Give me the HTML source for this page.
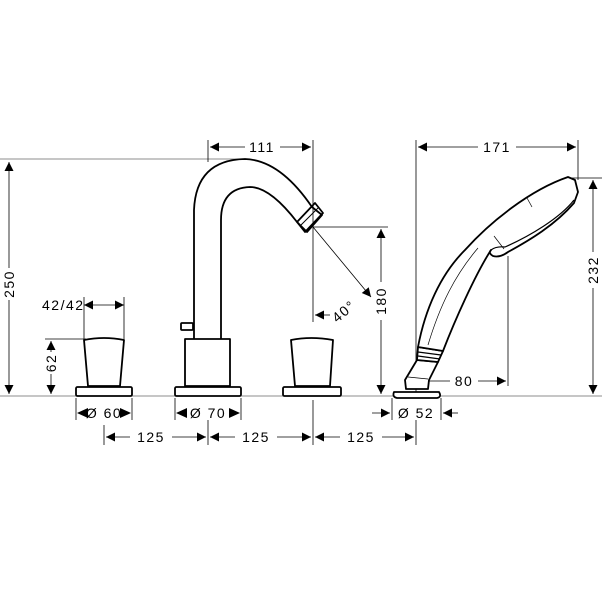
<!DOCTYPE html>
<html><head><style>html,body{margin:0;padding:0;background:#fff}svg{display:block}text{font-family:"Liberation Sans",sans-serif;font-size:14px;fill:#000;letter-spacing:1.5px}</style></head><body>
<svg width="602" height="602" viewBox="0 0 602 602" xmlns="http://www.w3.org/2000/svg">
<defs>
<marker id="a" viewBox="0 0 10 10" refX="10" refY="5" markerWidth="12" markerHeight="9" orient="auto-start-reverse" markerUnits="userSpaceOnUse"><path d="M0,0L10,5L0,10z" fill="#000"/></marker>
</defs>
<g stroke="#000" stroke-width="0.8" fill="none">
<line x1="0" y1="396" x2="602" y2="396" stroke="#666"/>
<line x1="0" y1="159" x2="245" y2="159" stroke="#666"/>
<line x1="208" y1="140" x2="208" y2="162"/>
<line x1="313" y1="140" x2="313" y2="322"/>
<line x1="416" y1="140" x2="416" y2="396"/>
<line x1="578" y1="140" x2="578" y2="180"/>
<line x1="570" y1="178" x2="602" y2="178"/>
<line x1="313" y1="227" x2="388" y2="227"/>
<line x1="508" y1="256" x2="508" y2="386"/>
<line x1="84" y1="297" x2="84" y2="339"/>
<line x1="124" y1="297" x2="124" y2="339"/>
<line x1="45" y1="339" x2="86" y2="339"/>
<line x1="76" y1="398" x2="76" y2="420"/><line x1="132" y1="398" x2="132" y2="420"/>
<line x1="175" y1="398" x2="175" y2="420"/><line x1="241" y1="398" x2="241" y2="420"/>
<line x1="392" y1="398" x2="392" y2="420"/><line x1="441" y1="398" x2="441" y2="420"/>
<line x1="104" y1="425" x2="104" y2="445"/><line x1="208" y1="420" x2="208" y2="445"/>
<line x1="313" y1="400" x2="313" y2="445"/><line x1="416" y1="420" x2="416" y2="445"/>
<line x1="9" y1="162" x2="9" y2="268" marker-start="url(#a)"/><line x1="9" y1="300" x2="9" y2="394" marker-end="url(#a)"/>
<line x1="51" y1="341" x2="51" y2="352" marker-start="url(#a)"/><line x1="51" y1="374" x2="51" y2="394" marker-end="url(#a)"/>
<line x1="84" y1="305" x2="124" y2="305" marker-start="url(#a)" marker-end="url(#a)"/>
<line x1="210" y1="147" x2="245" y2="147" marker-start="url(#a)"/><line x1="280" y1="147" x2="311" y2="147" marker-end="url(#a)"/>
<line x1="418" y1="147" x2="478" y2="147" marker-start="url(#a)"/><line x1="516" y1="147" x2="576" y2="147" marker-end="url(#a)"/>
<line x1="593" y1="180" x2="593" y2="252" marker-start="url(#a)"/><line x1="593" y1="288" x2="593" y2="394" marker-end="url(#a)"/>
<line x1="381" y1="229" x2="381" y2="282" marker-start="url(#a)"/><line x1="381" y1="320" x2="381" y2="394" marker-end="url(#a)"/>
<line x1="313" y1="227" x2="371" y2="297" marker-end="url(#a)"/>
<line x1="315" y1="315" x2="330" y2="315" marker-start="url(#a)"/>
<line x1="418" y1="381" x2="450" y2="381" marker-start="url(#a)"/><line x1="478" y1="381" x2="506" y2="381" marker-end="url(#a)"/>
<line x1="106" y1="437" x2="130" y2="437" marker-start="url(#a)"/><line x1="172" y1="437" x2="206" y2="437" marker-end="url(#a)"/>
<line x1="210" y1="437" x2="235" y2="437" marker-start="url(#a)"/><line x1="277" y1="437" x2="311" y2="437" marker-end="url(#a)"/>
<line x1="315" y1="437" x2="340" y2="437" marker-start="url(#a)"/><line x1="382" y1="437" x2="414" y2="437" marker-end="url(#a)"/>
<line x1="372" y1="413" x2="390" y2="413" marker-end="url(#a)"/><line x1="458" y1="413" x2="443" y2="413" marker-end="url(#a)"/>
</g>
<g fill="#000">
<path d="M77,413l11,-5v10z"/><path d="M131,413l-11,-5v10z"/>
<path d="M176,413l11,-5v10z"/><path d="M240,413l-11,-5v10z"/>
</g>
<g stroke="#000" stroke-width="1.8" fill="#fff" stroke-linejoin="round">
<rect x="76" y="387" width="56" height="9" rx="1.5"/>
<path d="M84,340 Q104,336 124,340 L120,386 L88,386 Z"/>
<rect x="175" y="387" width="66" height="9" rx="1.5"/>
<rect x="185" y="339" width="45" height="47"/>
<rect x="181" y="323" width="12" height="7" rx="1"/>
<path d="M194,339 L194,210 Q196,160 245,159 Q280,160 312,207 L322,215 L307,232 L297,222 Q270,187 250,187 Q221,188 221,220 L221,339" fill="none"/>
<path d="M297,222 L315,203 L323,213 L305,232 Z" fill="none"/>
<line x1="300" y1="226" x2="318" y2="208" stroke-width="1"/>
<rect x="283" y="387" width="58" height="9" rx="1.5"/>
<path d="M291,340 Q311,336 333,340 L330,386 L295,386 Z"/>
<path d="M394,392 Q392,397 397,398 L437,398 Q442,397 439,392 Z"/>
<path d="M417,360 L405,380 L406,389 L428,389 L429,380 L438,362 Z"/>
<path d="M418,347 L417,360 L438,362 L443,351 Z"/>
<line x1="418" y1="352" x2="441" y2="355" stroke-width="1.2"/>
<line x1="418" y1="356" x2="440" y2="359" stroke-width="1.2"/>
<path d="M418,347 C425,310 440,275 465,250 C490,222 530,190 568,177 L575,180 L578,192 L574,203 C555,225 530,240 508,252 Q500,258 493,256 Q488,253 491,250 C475,275 455,320 443,351 Z"/>
<path d="M491,250 Q496,246 505,247 C530,236 560,218 574,200" fill="none" stroke-width="1.2"/>
<path d="M428,345 C440,305 455,275 478,248" fill="none" stroke-width="0.7"/>
<line x1="527" y1="198" x2="532" y2="207" stroke-width="0.7"/>
<line x1="494" y1="236" x2="504" y2="249" stroke-width="0.7"/>
<line x1="408" y1="377" x2="428" y2="379" stroke-width="0.7"/>
</g>
<text x="42" y="310">42/42</text>
<text transform="translate(14,284) rotate(-90)" text-anchor="middle">250</text>
<text transform="translate(56,363) rotate(-90)" text-anchor="middle">62</text>
<text x="262" y="152" text-anchor="middle">111</text>
<text x="497" y="152" text-anchor="middle">171</text>
<text transform="translate(598,270) rotate(-90)" text-anchor="middle">232</text>
<text transform="translate(386,301) rotate(-90)" text-anchor="middle">180</text>
<text transform="translate(347,315) rotate(-40)" text-anchor="middle">40°</text>
<text x="464" y="386" text-anchor="middle">80</text>
<text x="104" y="418" text-anchor="middle">Ø 60</text>
<text x="208" y="418" text-anchor="middle">Ø 70</text>
<text x="416" y="418" text-anchor="middle">Ø 52</text>
<text x="151" y="442" text-anchor="middle">125</text>
<text x="256" y="442" text-anchor="middle">125</text>
<text x="361" y="442" text-anchor="middle">125</text>
</svg>
</body></html>
